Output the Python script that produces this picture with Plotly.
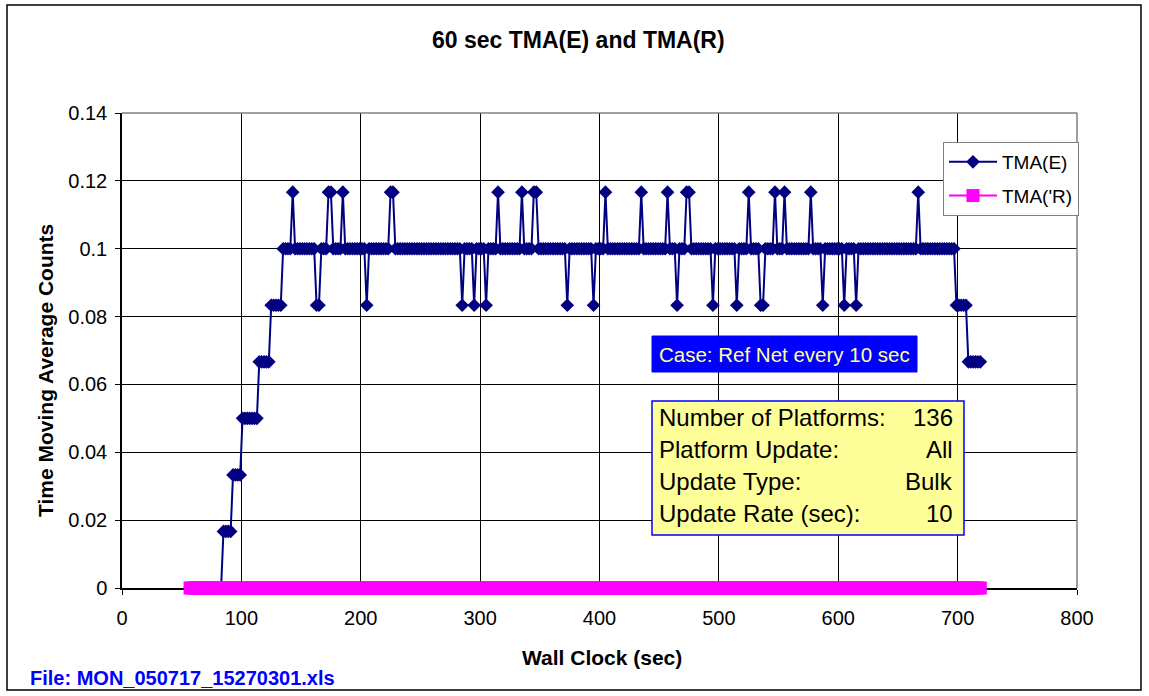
import plotly.graph_objects as go

# ---------------- data ----------------
# sample times (sec), one sample every 2 s
times = list(range(57, 720, 2))

# counts inside the 60 s moving window for TMA(E)
tma_e_counts = [
    0, 0, 0, 0, 0, 0, 0, 0, 0, 0,   # 57-75
    0, 0, 0, 0, 1, 1, 1, 1, 2, 2,   # 77-95
    2, 2, 3, 3, 3, 3, 3, 3, 3, 4,   # 97-115
    4, 4, 4, 4, 5, 5, 5, 5, 5, 6,   # 117-135
    6, 6, 6, 7, 6, 6, 6, 6, 6, 6,   # 137-155
    6, 6, 6, 5, 5, 6, 6, 6, 7, 7,   # 157-175
    6, 6, 6, 6, 7, 6, 6, 6, 6, 6,   # 177-195
    6, 6, 6, 6, 5, 6, 6, 6, 6, 6,   # 197-215
    6, 6, 6, 6, 7, 7, 6, 6, 6, 6,   # 217-235
    6, 6, 6, 6, 6, 6, 6, 6, 6, 6,   # 237-255
    6, 6, 6, 6, 6, 6, 6, 6, 6, 6,   # 257-275
    6, 6, 6, 6, 5, 6, 6, 6, 6, 5,   # 277-295
    6, 6, 6, 6, 5, 6, 6, 6, 6, 7,   # 297-315
    6, 6, 6, 6, 6, 6, 6, 6, 6, 7,   # 317-335
    6, 6, 6, 6, 7, 7, 6, 6, 6, 6,   # 337-355
    6, 6, 6, 6, 6, 6, 6, 6, 5, 6,   # 357-375
    6, 6, 6, 6, 6, 6, 6, 6, 6, 5,   # 377-395
    6, 6, 6, 6, 7, 6, 6, 6, 6, 6,   # 397-415
    6, 6, 6, 6, 6, 6, 6, 6, 6, 7,   # 417-435
    6, 6, 6, 6, 6, 6, 6, 6, 6, 6,   # 437-455
    7, 6, 6, 6, 5, 6, 6, 6, 7, 7,   # 457-475
    6, 6, 6, 6, 6, 6, 6, 6, 6, 5,   # 477-495
    6, 6, 6, 6, 6, 6, 6, 6, 6, 5,   # 497-515
    6, 6, 6, 6, 7, 6, 6, 6, 6, 5,   # 517-535
    5, 6, 6, 6, 6, 7, 6, 6, 6, 7,   # 537-555
    6, 6, 6, 6, 6, 6, 6, 6, 6, 6,   # 557-575
    7, 6, 6, 6, 6, 5, 6, 6, 6, 6,   # 577-595
    6, 6, 6, 6, 5, 6, 6, 6, 6, 5,   # 597-615
    6, 6, 6, 6, 6, 6, 6, 6, 6, 6,   # 617-635
    6, 6, 6, 6, 6, 6, 6, 6, 6, 6,   # 637-655
    6, 6, 6, 6, 6, 7, 6, 6, 6, 6,   # 657-675
    6, 6, 6, 6, 6, 6, 6, 6, 6, 6,   # 677-695
    6, 5, 5, 5, 5, 5, 4, 4, 4, 4,   # 697-715
    4, 4,                           # 717-719
]
WINDOW_SEC = 60
tma_e = [c / WINDOW_SEC for c in tma_e_counts]
tma_r = [0.0] * len(times)

series_names = ["TMA(E)", "TMA('R)"]
title_text = "60 sec TMA(E) and TMA(R)"
x_title = "Wall Clock (sec)"
y_title = "Time Moving Average Counts"
file_text = "File: MON_050717_15270301.xls"
case_text = "Case: Ref Net every 10 sec"
info_labels = ["Number of Platforms:", "Platform Update:", "Update Type:", "Update Rate (sec):"]
info_values = ["136", "All", "Bulk", "10"]

# ---------------- layout helpers ----------------
W, H = 1149, 696
PL, PR, PT, PB = 122, 1077, 113, 588   # plot area in pixels


def px_x(px):
    return (px - PL) / (PR - PL)


def px_y(py):
    return (PB - py) / (PB - PT)


FONT = "Arial, 'Liberation Sans', sans-serif"

fig = go.Figure()
fig.add_trace(go.Scatter(
    x=times, y=tma_e, name=series_names[0], mode="lines+markers",
    line=dict(color="#000080", width=2),
    marker=dict(symbol="diamond", size=10.5, color="#000080", line=dict(width=0)),
    cliponaxis=False, legendgroup="a",
))
fig.add_trace(go.Scatter(
    x=times, y=tma_r, name=series_names[1], mode="lines+markers",
    line=dict(color="#FF00FF", width=2),
    marker=dict(symbol="square", size=13, color="#FF00FF", line=dict(width=0)),
    cliponaxis=False, legendgroup="b",
))

shapes = [
    # outer chart border
    dict(type="rect", xref="paper", yref="paper",
         x0=px_x(7), x1=px_x(1141), y0=px_y(690), y1=px_y(5),
         line=dict(color="black", width=1.5), fillcolor="rgba(0,0,0,0)", layer="below"),
    # plot area top/right border
    dict(type="line", xref="paper", yref="paper", x0=0, x1=1, y0=1, y1=1,
         line=dict(color="#808080", width=1.5), layer="above"),
    dict(type="line", xref="paper", yref="paper", x0=1, x1=1, y0=0, y1=1,
         line=dict(color="#808080", width=1.5), layer="above"),
    # case box
    dict(type="rect", xref="paper", yref="paper",
         x0=px_x(652), x1=px_x(917), y0=px_y(372), y1=px_y(336),
         line=dict(color="#0000FF", width=1), fillcolor="#0000FF", layer="above"),
    # info box
    dict(type="rect", xref="paper", yref="paper",
         x0=px_x(652), x1=px_x(964), y0=px_y(535), y1=px_y(401),
         line=dict(color="#0000FF", width=1.5), fillcolor="#FFFF99", layer="above"),
]

annotations = [
    dict(text="<b>" + title_text + "</b>", x=px_x(578), y=px_y(40), xref="paper", yref="paper",
         showarrow=False, xanchor="center", yanchor="middle",
         font=dict(family=FONT, size=23, color="black")),
    dict(text="<b>" + y_title + "</b>", x=px_x(45), y=px_y(371), xref="paper", yref="paper",
         showarrow=False, xanchor="center", yanchor="middle", textangle=-90,
         font=dict(family=FONT, size=21, color="black")),
    dict(text="<b>" + x_title + "</b>", x=px_x(602), y=px_y(657), xref="paper", yref="paper",
         showarrow=False, xanchor="center", yanchor="middle",
         font=dict(family=FONT, size=21, color="black")),
    dict(text="<b>" + file_text + "</b>", x=px_x(28), y=px_y(678), xref="paper", yref="paper",
         showarrow=False, xanchor="left", yanchor="middle",
         font=dict(family=FONT, size=20, color="#0000FF")),
    dict(text=case_text, x=px_x(784), y=px_y(354), xref="paper", yref="paper",
         showarrow=False, xanchor="center", yanchor="middle",
         font=dict(family=FONT, size=20.5, color="#FFFF99")),
]
line_y = [417, 449, 481, 513]
for lab, val, yy in zip(info_labels, info_values, line_y):
    annotations.append(dict(text=lab, x=px_x(657), y=px_y(yy), xref="paper", yref="paper",
                            showarrow=False, xanchor="left", yanchor="middle",
                            font=dict(family=FONT, size=24, color="black")))
    annotations.append(dict(text=val, x=px_x(955), y=px_y(yy), xref="paper", yref="paper",
                            showarrow=False, xanchor="right", yanchor="middle",
                            font=dict(family=FONT, size=24, color="black")))

fig.update_layout(
    width=W, height=H,
    margin=dict(l=PL, r=W - PR, t=PT, b=H - PB, pad=0),
    paper_bgcolor="white", plot_bgcolor="white",
    font=dict(family=FONT, size=20, color="black"),
    showlegend=True,
    legend=dict(
        x=px_x(1079), xanchor="right", y=px_y(142), yanchor="top",
        bgcolor="white", bordercolor="#808080", borderwidth=1,
        font=dict(family=FONT, size=19, color="black"),
        traceorder="grouped", tracegroupgap=6, itemwidth=48,
    ),
    shapes=shapes,
    annotations=annotations,
    xaxis=dict(
        range=[0, 800], dtick=100, tick0=0,
        showgrid=True, gridcolor="black", gridwidth=1,
        showline=True, linecolor="black", linewidth=1.5,
        ticks="outside", ticklen=5, tickcolor="black",
        zeroline=False, layer="below traces",
        tickfont=dict(family=FONT, size=20, color="black"),
        ticklabelstandoff=6,
    ),
    yaxis=dict(
        range=[0, 0.14], dtick=0.02, tick0=0,
        showgrid=True, gridcolor="black", gridwidth=1,
        showline=True, linecolor="black", linewidth=1.5,
        ticks="outside", ticklen=5, tickcolor="black",
        zeroline=False, layer="below traces",
        tickfont=dict(family=FONT, size=20, color="black"),
        ticklabelstandoff=4,
    ),
)

fig.write_html("out.html", config={"displayModeBar": False},
               post_script="document.body.style.margin='0px';")
